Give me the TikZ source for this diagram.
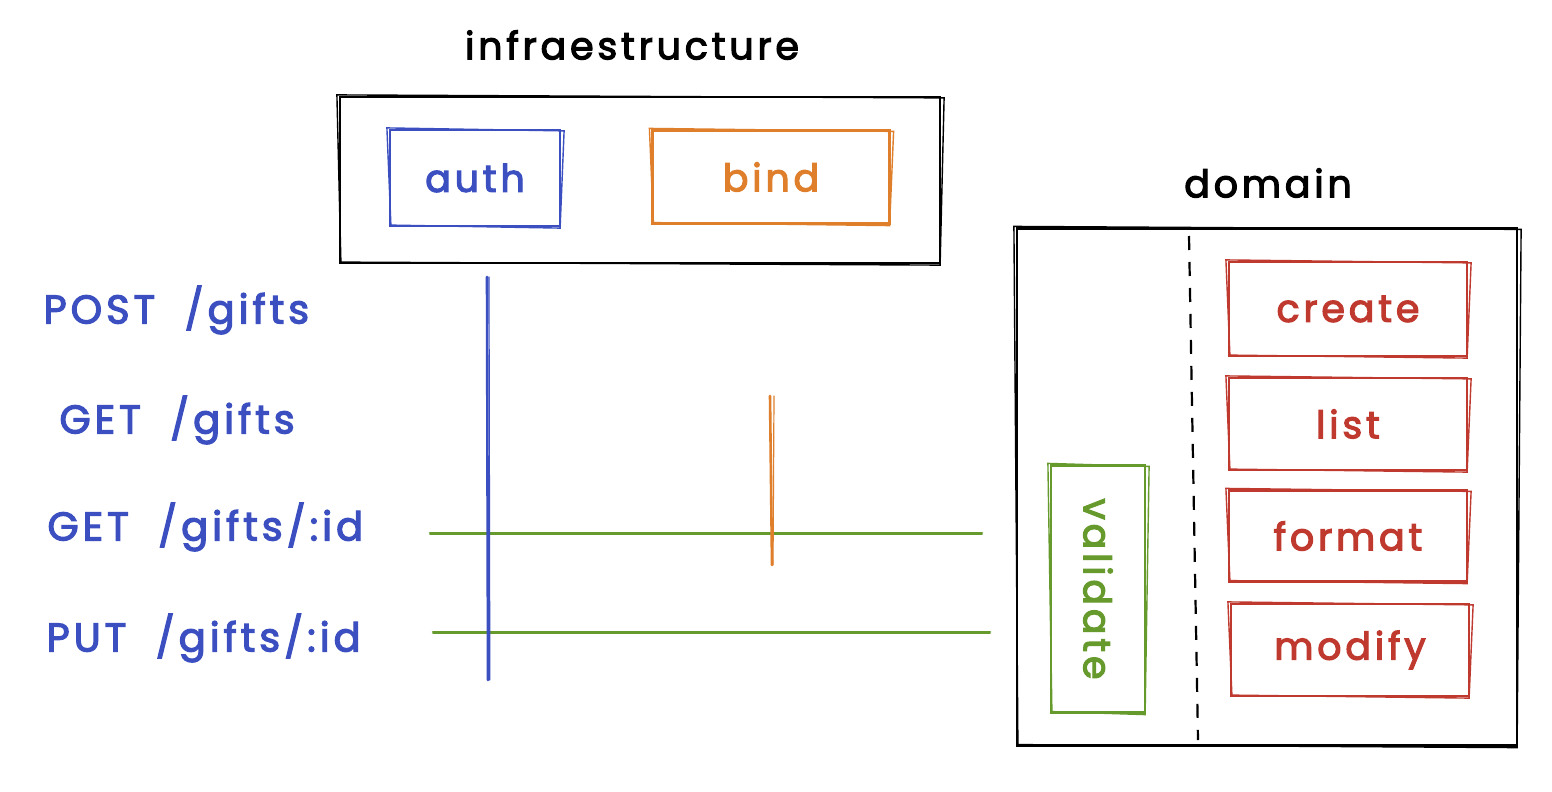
\documentclass[tikz,border=0pt]{standalone}
\usepackage{fontspec}
\setmainfont{Poppins}[LetterSpace=10, FakeBold=3, WordSpace=2]
\definecolor{eblue}{HTML}{3B4FC1}
\definecolor{eorange}{HTML}{DF7F2C}
\definecolor{egreen}{HTML}{679A2C}
\definecolor{ered}{HTML}{C0392F}
\newcommand\roughbox[2]{\draw[#1,line width=1.4pt] ([shift={(-2,-1)}]#2.north west) -- ([shift={(3,2)}]#2.north east) -- ([shift={(-1,1)}]#2.south east) -- ([shift={(2,-2)}]#2.south west) -- cycle;}
\begin{document}
\begin{tikzpicture}[x=1pt,y=-1pt,
  box/.style={draw=#1, text=#1, line width=2.2pt, rectangle, inner sep=0pt, font=\fontsize{38}{44}\selectfont},
  frame/.style={draw=black, line width=2.2pt, rectangle, inner sep=0pt},
  title/.style={font=\fontsize{38}{44}\selectfont, text=black},
  route/.style={font=\fontsize{40}{46}\selectfont, text=eblue, anchor=west},
  wire/.style={line width=2.6pt, line cap=round}]
\useasboundingbox (0,0) rectangle (1552,792);
\fill[white] (0,0) rectangle (1552,792);

% infrastructure
\node[title] (tinfra) at (632,45) {infraestructure};
\node[frame, minimum width=600, minimum height=166] (infra) at (640,180) {};
\roughbox{black}{infra}
\node[box=eblue, minimum width=170, minimum height=96] (auth) at (475,178) {auth};
\roughbox{eblue}{auth}
\node[box=eorange, minimum width=237, minimum height=93] (bind) at (771,177) {bind};
\roughbox{eorange}{bind}

% domain
\node[title] (tdomain) at (1268,183) {domain};
\node[frame, minimum width=500, minimum height=517] (domain) at (1267,487) {};
\roughbox{black}{domain}
\coordinate (dtop) at (1189,236);
\coordinate (dbot) at (1198,740);
\draw[line width=2.2pt, dash pattern=on 14pt off 12pt] (dtop) -- (dbot);

\node[box=ered, minimum width=238, minimum height=94] (create) at (1348,309) {create};
\roughbox{ered}{create}
\node[box=ered, minimum width=238, minimum height=92] (list) at (1348,424) {list};
\roughbox{ered}{list}
\node[box=ered, minimum width=238, minimum height=91] (format) at (1348,536) {format};
\roughbox{ered}{format}
\node[box=ered, minimum width=238, minimum height=92] (modify) at (1350,650) {modify};
\roughbox{ered}{modify}

\node[box=egreen, minimum width=94, minimum height=247] (validate) at (1098,589) {};
\roughbox{egreen}{validate}
\node[text=egreen, font=\fontsize{38}{44}\selectfont, rotate=-90] (tvalidate) at (1098,589) {validate};

% routes
\node[route] (post) at (40,310) {POST /gifts};
\node[route] (get) at (56,420) {GET /gifts};
\node[route] (getid) at (44,527) {GET /gifts/:id};
\node[route] (put) at (43,638) {PUT /gifts/:id};

% lines
\coordinate (g1a) at (430,533);
\coordinate (g1b) at (982,533);
\coordinate (g2a) at (433,632);
\coordinate (g2b) at (990,632);
\draw[wire, egreen] (g1a) -- (g1b);
\draw[wire, egreen, line width=1.2pt] ([yshift=-1.8]g1a) -- ([yshift=-1.8]g1b);
\draw[wire, egreen] (g2a) -- (g2b);
\draw[wire, egreen, line width=1.2pt] ([yshift=-1.8]g2a) -- ([yshift=-1.8]g2b);

\coordinate (bt) at (487,277);
\coordinate (bb) at (488,680);
\draw[wire, eblue] (bt) -- (bb);
\draw[wire, eblue, line width=1.2pt] ([xshift=2]bt) -- ([xshift=1.8]bb);

\coordinate (ot) at (770,396);
\coordinate (ob) at (772,565);
\draw[wire, eorange] (ot) -- (ob);
\draw[wire, eorange, line width=1.2pt] ([xshift=4]ot) -- ([xshift=1]ob);
\end{tikzpicture}
\end{document}
